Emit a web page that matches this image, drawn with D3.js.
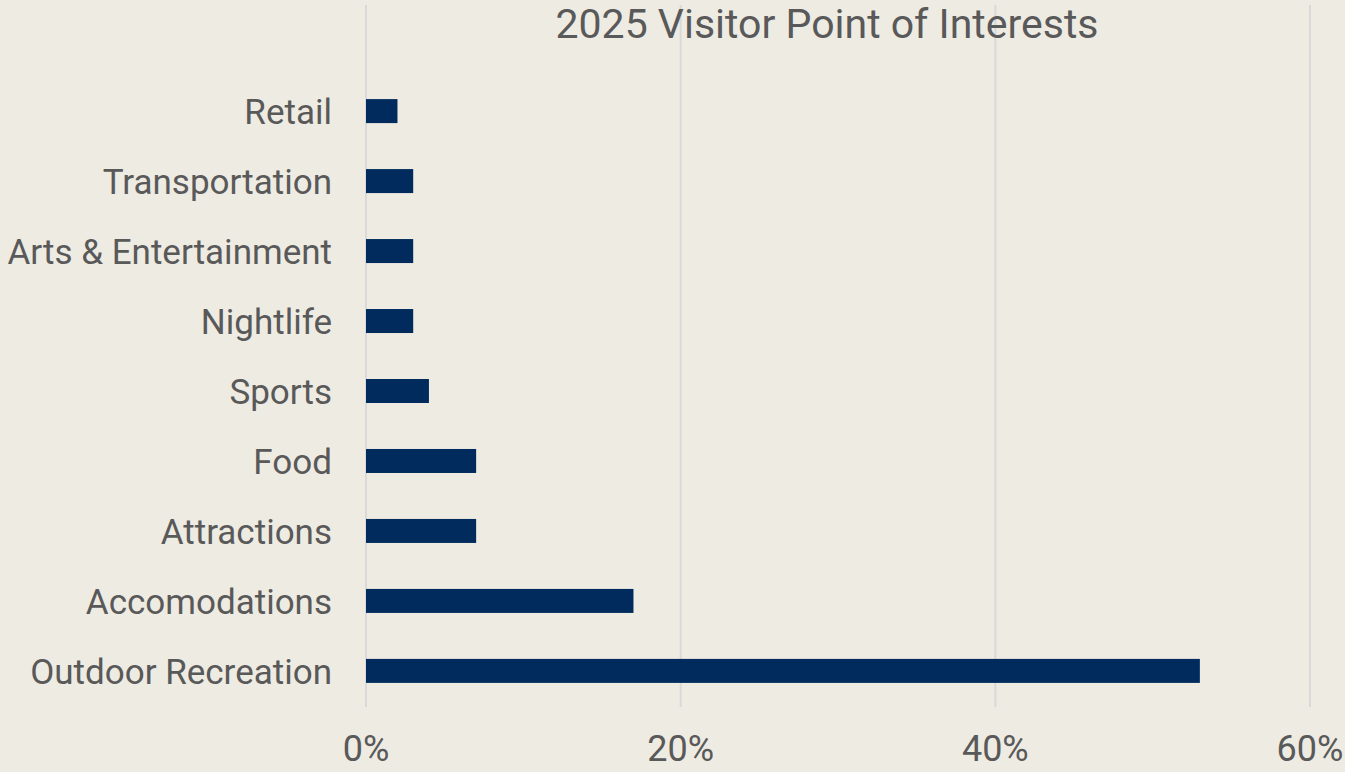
<!DOCTYPE html>
<html>
<head>
<meta charset="utf-8">
<script src="https://cdn.jsdelivr.net/npm/d3@7"></script>
<style>
  html, body { margin: 0; padding: 0; background: #eeebe3; }
  text { font-family: "Roboto", "Liberation Sans", sans-serif; fill: #595959; }
</style>
</head>
<body>
<div id="chart"></div>
<script>
const categories = ["Retail", "Transportation", "Arts & Entertainment", "Nightlife", "Sports",
    "Food", "Attractions", "Accomodations", "Outdoor Recreation"];
const shares = [2, 3, 3, 3, 4, 7, 7, 17, 53];
const ticks = [0, 20, 40, 60];
const title = "2025 Visitor Point of Interests";

const width = 1345, height = 772;
const margin = { top: 76, right: 35, bottom: 66, left: 366 };

const svg = d3.select('#chart').append('svg')
    .attr('width', width)
    .attr('height', height);

const x = d3.scaleLinear().domain([0, 60]).range([margin.left, width - margin.right]);
const y = d3.scaleBand().domain(categories)
    .range([margin.top, height - margin.bottom])
    .paddingInner(0.657).paddingOuter(0.33);

// gridlines
svg.append('g')
    .selectAll('line')
    .data(ticks)
    .join('line')
    .attr('x1', d => x(d)).attr('x2', d => x(d))
    .attr('y1', 5).attr('y2', 707)
    .attr('stroke', '#d9d9d9')
    .attr('stroke-width', 2);

// bars
svg.append('g')
    .selectAll('rect')
    .data(shares)
    .join('rect')
    .attr('x', x(0))
    .attr('y', (d, i) => y(categories[i]))
    .attr('width', d => x(d) - x(0))
    .attr('height', y.bandwidth())
    .attr('fill', '#002b5c');

// category labels
svg.append('g')
    .selectAll('text')
    .data(categories)
    .join('text')
    .attr('x', 332)
    .attr('y', d => y(d) + y.bandwidth() / 2)
    .attr('dy', '0.36em')
    .style('text-anchor', 'end')
    .style('font-size', '35px')
    .text(d => d);

// x tick labels
svg.append('g')
    .selectAll('text')
    .data(ticks)
    .join('text')
    .attr('x', d => x(d))
    .attr('y', 761)
    .style('text-anchor', 'middle')
    .style('font-size', '36px')
    .text(d => d + '%');

svg.append('text')
    .attr('x', 827)
    .attr('y', 38)
    .style('text-anchor', 'middle')
    .style('font-size', '41px')
    .text(title);
</script>
</body>
</html>
